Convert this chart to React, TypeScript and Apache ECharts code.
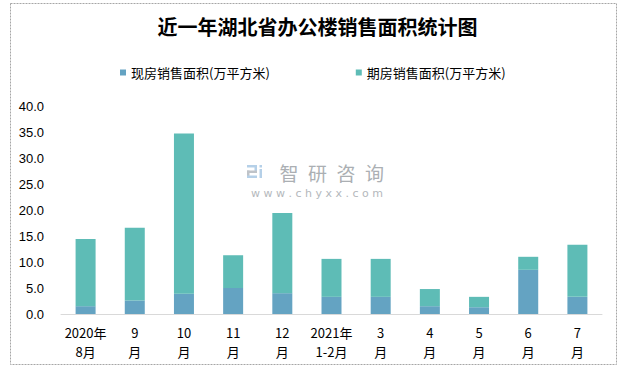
import React, { useEffect, useRef } from "react";
import * as echarts from "echarts";

const categories = ["2020年\n8月", "9\n月", "10\n月", "11\n月", "12\n月", "2021年\n1-2月", "3\n月", "4\n月", "5\n月", "6\n月", "7\n月"];
const totals = [14.4, 16.6, 34.7, 11.3, 19.4, 10.6, 10.6, 4.8, 3.3, 11.0, 13.3];
const spotArea = [1.5, 2.6, 3.9, 5.0, 4.0, 3.3, 3.3, 1.5, 1.3, 8.5, 3.3];
const futuresArea = totals.map((t, i) => +(t - spotArea[i]).toFixed(1));
const seriesNames = ["现房销售面积(万平方米)", "期房销售面积(万平方米)"];
const titleText = "近一年湖北省办公楼销售面积统计图";
const watermarkName = "智研咨询";
const watermarkUrl = "w w w . c h y x x . c o m";

const CJK = '"Noto Sans CJK SC", "Noto Sans", sans-serif';

export default function App() {
  const ref = useRef<HTMLDivElement>(null);
  useEffect(() => {
    document.body.style.margin = "0";
    const chart = echarts.init(ref.current!, undefined, { renderer: "svg" });
    const nameChars = watermarkName.split("").map((ch, i) => ({
      type: "text",
      x: 289 + i * 28.5,
      y: 162.5,
      style: { text: ch, fill: "#abafb3", fontSize: 19, fontFamily: CJK, textAlign: "center" },
      silent: true,
    }));
    const logoBlue = "#b5d0e8";
    const logoGray = "#bfc3c8";
    chart.setOption({
      animation: false,
      backgroundColor: "#fff",
      title: {
        text: titleText,
        left: "center",
        top: 11,
        textStyle: { fontSize: 20, fontWeight: "bold", color: "#000", fontFamily: CJK },
      },
      legend: {
        top: 61,
        left: 115,
        itemWidth: 6,
        itemHeight: 6,
        itemGap: 86,
        icon: "rect",
        textStyle: { fontSize: 13, color: "#000", fontFamily: CJK },
        data: seriesNames,
      },
      grid: { left: 61, right: 33, top: 106, bottom: 54, containLabel: false },
      xAxis: {
        type: "category",
        data: categories,
        axisTick: { show: false },
        axisLine: { lineStyle: { color: "#d9d9d9", width: 1 } },
        axisLabel: { fontSize: 13, color: "#000", lineHeight: 19, margin: 9, fontFamily: CJK, interval: 0 },
      },
      yAxis: {
        type: "value",
        min: 0,
        max: 40,
        interval: 5,
        splitLine: { show: false },
        axisLine: { show: false },
        axisTick: { show: false },
        axisLabel: {
          fontSize: 13,
          color: "#000",
          margin: 17,
          fontFamily: '"Liberation Sans", sans-serif',
          formatter: (v: number) => v.toFixed(1),
        },
      },
      series: [
        {
          name: seriesNames[0],
          type: "bar",
          stack: "total",
          barWidth: 20,
          data: spotArea,
          itemStyle: { color: "#64a3c2" },
        },
        {
          name: seriesNames[1],
          type: "bar",
          stack: "total",
          barWidth: 20,
          data: futuresArea,
          itemStyle: { color: "#5ebcb6" },
        },
      ],
      graphic: [
        {
          type: "rect",
          shape: { x: 10.5, y: 3.5, width: 606, height: 361 },
          style: { fill: "none", stroke: "#a6a6a6", lineWidth: 1, lineDash: [2, 1] },
          silent: true,
        },
        // watermark logo
        { type: "rect", shape: { x: 247, y: 165, width: 10, height: 2.5 }, style: { fill: logoBlue }, silent: true },
        { type: "rect", shape: { x: 254.5, y: 165, width: 2.5, height: 7.5 }, style: { fill: logoBlue }, silent: true },
        { type: "rect", shape: { x: 247, y: 170.5, width: 10, height: 2.5 }, style: { fill: logoGray }, silent: true },
        { type: "rect", shape: { x: 247, y: 170.5, width: 2.5, height: 7.5 }, style: { fill: logoGray }, silent: true },
        { type: "rect", shape: { x: 247, y: 175.5, width: 10, height: 2.5 }, style: { fill: logoBlue }, silent: true },
        { type: "rect", shape: { x: 259.5, y: 165, width: 2.5, height: 2.5 }, style: { fill: logoBlue }, silent: true },
        { type: "rect", shape: { x: 259.5, y: 169, width: 2.5, height: 9 }, style: { fill: logoBlue }, silent: true },
        ...nameChars,
        {
          type: "text",
          x: 317,
          y: 188,
          style: {
            text: watermarkUrl,
            fill: "#b4b8bc",
            fontSize: 11,
            fontFamily: '"DejaVu Sans", sans-serif',
            textAlign: "center",
          },
          silent: true,
        },
      ],
    });
    return () => chart.dispose();
  }, []);
  return <div ref={ref} style={{ width: 635, height: 368 }} />;
}
